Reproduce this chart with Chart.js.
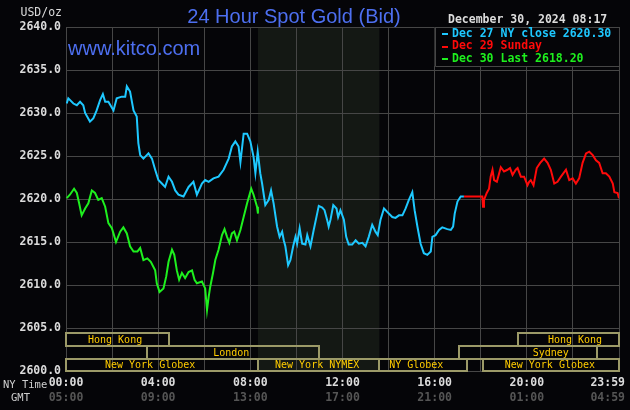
<!DOCTYPE html>
<html>
<head>
<meta charset="utf-8">
<script src="https://cdn.jsdelivr.net/npm/chart.js@4.4.1/dist/chart.umd.min.js"></script>
<style>
html,body{margin:0;padding:0;background:#050508;}
#wrap{width:630px;height:410px;}
</style>
</head>
<body>
<div id="wrap"><canvas id="c" width="630" height="410"></canvas></div>
<script>
// ---- data (hours of NY time, prices in USD/oz) ----
const cyanHours = [0.03,0.10,0.32,0.47,0.61,0.75,0.83,1.04,1.19,1.33,1.48,1.60,1.70,1.84,2.06,2.20,2.42,2.57,2.64,2.78,2.93,3.07,3.14,3.22,3.36,3.58,3.73,3.87,4.01,4.16,4.30,4.45,4.60,4.74,4.88,5.10,5.32,5.53,5.68,5.90,6.04,6.19,6.40,6.62,6.84,7.06,7.20,7.35,7.49,7.57,7.71,7.86,8.00,8.14,8.22,8.32,8.43,8.51,8.65,8.80,8.90,9.01,9.16,9.27,9.38,9.45,9.52,9.64,9.74,9.86,9.96,10.03,10.14,10.25,10.39,10.47,10.61,10.75,10.90,10.97,11.12,11.22,11.33,11.40,11.48,11.60,11.74,11.81,11.91,12.06,12.16,12.27,12.42,12.57,12.71,12.86,13.00,13.14,13.29,13.43,13.53,13.65,13.80,13.94,14.16,14.30,14.45,14.60,14.74,14.88,15.03,15.13,15.25,15.39,15.53,15.68,15.83,15.90,16.04,16.19,16.33,16.55,16.70,16.80,16.87,16.99,17.13,17.27];
const cyanValues = [2631.1,2631.7,2631.1,2630.9,2631.3,2630.9,2630.0,2629.0,2629.4,2630.3,2631.5,2632.2,2631.3,2631.3,2630.3,2631.7,2631.9,2631.9,2633.1,2632.5,2630.3,2629.6,2626.5,2625.1,2624.7,2625.3,2624.7,2623.4,2622.2,2621.8,2621.4,2622.6,2622.0,2621.0,2620.5,2620.3,2621.4,2622.0,2620.5,2621.8,2622.2,2622.0,2622.4,2622.6,2623.4,2624.7,2626.1,2626.7,2626.1,2624.3,2627.6,2627.6,2626.7,2624.9,2623.0,2625.5,2623.0,2621.8,2619.3,2619.9,2621.0,2619.5,2616.8,2615.6,2616.2,2615.2,2614.5,2612.3,2612.9,2614.5,2615.6,2614.8,2616.6,2614.8,2614.7,2615.8,2614.5,2616.4,2618.3,2619.2,2619.0,2618.7,2617.6,2616.8,2617.6,2619.3,2618.9,2617.9,2618.7,2617.6,2615.6,2614.7,2614.7,2615.2,2614.8,2614.9,2614.5,2615.6,2617.0,2616.2,2615.8,2617.6,2618.9,2618.5,2617.9,2617.8,2618.1,2618.1,2618.9,2619.9,2620.8,2618.7,2616.8,2614.8,2613.7,2613.5,2613.9,2615.6,2615.8,2616.4,2616.7,2616.5,2616.4,2616.8,2618.3,2619.7,2620.3,2620.3];

const redHours = [17.27,18.07,18.10,18.14,18.26,18.36,18.43,18.51,18.58,18.70,18.80,18.87,19.01,19.16,19.27,19.38,19.52,19.60,19.74,19.88,20.03,20.10,20.17,20.29,20.43,20.58,20.75,20.90,21.04,21.19,21.33,21.48,21.70,21.84,21.99,22.13,22.27,22.42,22.57,22.71,22.86,23.00,23.14,23.29,23.43,23.58,23.73,23.80,23.94,24.00];
const redValues = [2620.3,2620.3,2619.1,2619.9,2620.7,2621.2,2622.6,2623.4,2622.2,2622.0,2623.0,2623.7,2623.2,2623.4,2623.6,2622.8,2623.4,2623.6,2622.6,2622.6,2621.6,2622.0,2622.2,2621.6,2623.6,2624.2,2624.7,2624.2,2623.4,2621.8,2622.0,2622.6,2623.4,2622.2,2622.4,2621.8,2622.4,2624.2,2625.3,2625.5,2625.1,2624.5,2624.2,2623.0,2623.0,2622.6,2621.8,2620.8,2620.7,2620.1];

const greenHours = [0.03,0.17,0.35,0.47,0.57,0.68,0.83,0.97,1.12,1.26,1.40,1.55,1.70,1.84,1.99,2.06,2.17,2.35,2.49,2.64,2.78,2.93,3.10,3.22,3.36,3.53,3.68,3.87,3.94,4.06,4.23,4.35,4.45,4.60,4.70,4.81,4.91,5.03,5.17,5.32,5.47,5.58,5.68,5.90,6.04,6.12,6.19,6.26,6.38,6.48,6.62,6.77,6.88,6.99,7.09,7.20,7.30,7.42,7.57,7.71,7.86,8.04,8.14,8.29,8.33];
const greenValues = [2620.1,2620.5,2621.2,2620.7,2619.5,2618.1,2618.9,2619.5,2621.0,2620.7,2619.9,2620.1,2619.1,2617.2,2616.6,2616.0,2615.0,2616.2,2616.7,2616.0,2614.5,2613.9,2613.9,2614.3,2612.9,2613.1,2612.7,2611.7,2610.2,2609.2,2609.6,2611.0,2612.7,2614.1,2613.5,2611.7,2610.6,2611.4,2610.8,2611.5,2611.7,2610.6,2610.2,2610.4,2609.6,2607.1,2608.6,2609.8,2611.4,2612.9,2614.1,2615.8,2616.5,2615.6,2614.9,2616.0,2616.2,2615.2,2616.4,2617.9,2619.5,2621.2,2620.5,2619.1,2618.3];

const legendLabels = ['Dec 27 NY close 2620.30','Dec 29 Sunday','Dec 30 Last 2618.20'];
const tickHours = [0,4,8,12,16,20,24];
const nyTickLabels = ['00:00','04:00','08:00','12:00','16:00','20:00','23:59'];
const gmtTickLabels = ['05:00','09:00','13:00','17:00','21:00','01:00','04:59'];

// trading sessions: [label, startHour, endHour, row]
const sessionNames = ['Hong Kong','Hong Kong','London','Sydney','New York Globex','New York NYMEX','NY Globex','New York Globex'];
const sessionStart = [0,19.6,3.5,17.04,0,8.33,13.58,18.08];
const sessionEnd   = [4.48,24,11.0,23.04,8.33,13.58,17.42,24];
const sessionRow   = [0,0,1,1,2,2,2,2];
const nymexShade = [8.33,13.6];

// ---- styles ----
const COL_CYAN = '#1ec8ff', COL_RED = '#ff0a0a', COL_GREEN = '#1ef01e';
const GRID = '#464646';
const MONO = '"DejaVu Sans Mono", monospace';
const sessionLabelHour = [2.13,22.09,7.17,21.04,3.65,10.9,15.2,21.0];
const rowTop = [333,346,359], rowBottom = [346,359,371];

function pts(h,v){return h.map((x,i)=>({x:x,y:v[i]}));}

const decor = {
  id:'decor',
  beforeDraw(chart){
    const ctx = chart.ctx, a = chart.chartArea, xs = chart.scales.x;
    ctx.save();
    ctx.fillStyle = '#050508';
    ctx.fillRect(0,0,chart.width,chart.height);
    const x0 = xs.getPixelForValue(nymexShade[0]), x1 = xs.getPixelForValue(nymexShade[1]);
    ctx.fillStyle = '#141814';
    ctx.fillRect(x0,a.top,x1-x0,a.bottom-a.top);
    ctx.restore();
  },
  afterDraw(chart){
    const ctx = chart.ctx, a = chart.chartArea, xs = chart.scales.x;
    ctx.save();
    // sessions
    ctx.lineWidth = 2;
    ctx.strokeStyle = '#9c9a68';
    for(let i=0;i<sessionNames.length;i++){
      const r = sessionRow[i];
      const x0 = Math.round(xs.getPixelForValue(sessionStart[i]));
      const x1 = Math.round(xs.getPixelForValue(sessionEnd[i]));
      ctx.strokeRect(x0,rowTop[r],x1-x0,rowBottom[r]-rowTop[r]);
    }
    ctx.fillStyle = '#ffcc00';
    ctx.font = '10px ' + MONO;
    ctx.textAlign = 'center';
    ctx.textBaseline = 'middle';
    for(let i=0;i<sessionNames.length;i++){
      const r = sessionRow[i];
      ctx.fillText(sessionNames[i], xs.getPixelForValue(sessionLabelHour[i]), (rowTop[r]+rowBottom[r])/2+0.5);
    }
    // title
    ctx.fillStyle = '#4d6ff0';
    ctx.font = '20px "Liberation Sans", Arial, sans-serif';
    ctx.textAlign = 'center';
    ctx.textBaseline = 'alphabetic';
    ctx.fillText('24 Hour Spot Gold (Bid)', 294, 23);
    ctx.textAlign = 'left';
    ctx.fillText('www.kitco.com', 68, 55);
    // date
    ctx.fillStyle = '#dcdcdc';
    ctx.font = 'bold 11.5px ' + MONO;
    ctx.textBaseline = 'middle';
    ctx.fillText('December 30, 2024 08:17', 448, 20);
    // unit
    ctx.font = '11.5px ' + MONO;
    ctx.textAlign = 'right';
    ctx.fillText('USD/oz', 62, 13);
    // x labels
    ctx.font = 'bold 11.5px ' + MONO;
    for(let i=0;i<tickHours.length;i++){
      let x = xs.getPixelForValue(tickHours[i]);
      ctx.textAlign = 'center';
      if(i===tickHours.length-1){ctx.textAlign='right'; x = 625;}
      ctx.fillStyle = '#dcdcdc';
      ctx.fillText(nyTickLabels[i], x, 383.5);
      ctx.fillStyle = '#555555';
      ctx.fillText(gmtTickLabels[i], x, 398);
    }
    ctx.fillStyle = '#cfcfcf';
    ctx.font = '10.5px ' + MONO;
    ctx.textAlign = 'left';
    ctx.fillText('NY Time', 3, 385);
    ctx.fillText('GMT', 11, 398);
    // legend box
    const lx = xs.getPixelForValue(16), ly = a.top, lw = a.right - lx, lh = 39;
    ctx.fillStyle = '#050508';
    ctx.fillRect(lx, ly, lw, lh);
    ctx.strokeStyle = GRID; ctx.lineWidth = 1;
    ctx.beginPath();
    ctx.moveTo(Math.round(lx)+0.5, ly); ctx.lineTo(Math.round(lx)+0.5, ly+lh+0.5);
    ctx.lineTo(a.right, ly+lh+0.5);
    ctx.moveTo(lx, ly+0.5); ctx.lineTo(a.right, ly+0.5);
    ctx.stroke();
    const cols = [COL_CYAN, COL_RED, COL_GREEN];
    const ys = [34, 46.5, 59];
    ctx.font = 'bold 11.5px ' + MONO;
    ctx.textAlign = 'left';
    for(let i=0;i<3;i++){
      ctx.fillStyle = cols[i];
      ctx.fillRect(442, Math.round(ys[i])-1, 6, 2);
      ctx.fillText(legendLabels[i], 452, ys[i]);
    }
    ctx.restore();
  }
};

new Chart(document.getElementById('c'), {
  type: 'line',
  data: {
    datasets: [
      {label:legendLabels[2], data: pts(greenHours, greenValues), borderColor: COL_GREEN, order: 0},
      {label:legendLabels[1], data: pts(redHours, redValues), borderColor: COL_RED, order: 1},
      {label:legendLabels[0], data: pts(cyanHours, cyanValues), borderColor: COL_CYAN, order: 2}
    ]
  },
  options: {
    responsive: false,
    devicePixelRatio: 1,
    animation: false,
    parsing: true,
    elements: {
      line: {borderWidth: 2, tension: 0, fill: false, borderJoinStyle: 'miter'},
      point: {radius: 0, hoverRadius: 0}
    },
    layout: {padding: {top: 27, right: 11, bottom: 0, left: 0}},
    plugins: {legend: {display: false}, title: {display: false}, tooltip: {enabled: false}},
    scales: {
      x: {
        type: 'linear', min: 0, max: 24,
        ticks: {display: false, stepSize: 2},
        grid: {color: GRID, lineWidth: 1, drawTicks: false},
        border: {display: false},
        afterFit(s){ s.height = 39; }
      },
      y: {
        type: 'linear', min: 2600, max: 2640,
        ticks: {stepSize: 5, padding: 5, color: '#dcdcdc',
          font: {family: '"DejaVu Sans Mono", monospace', size: 11.5, weight: 'bold'},
          callback: v => Number(v).toFixed(1)},
        grid: {color: GRID, lineWidth: 1, drawTicks: false},
        border: {display: false},
        afterFit(s){ s.width = 66; }
      }
    }
  },
  plugins: [decor]
});
</script>
</body>
</html>
